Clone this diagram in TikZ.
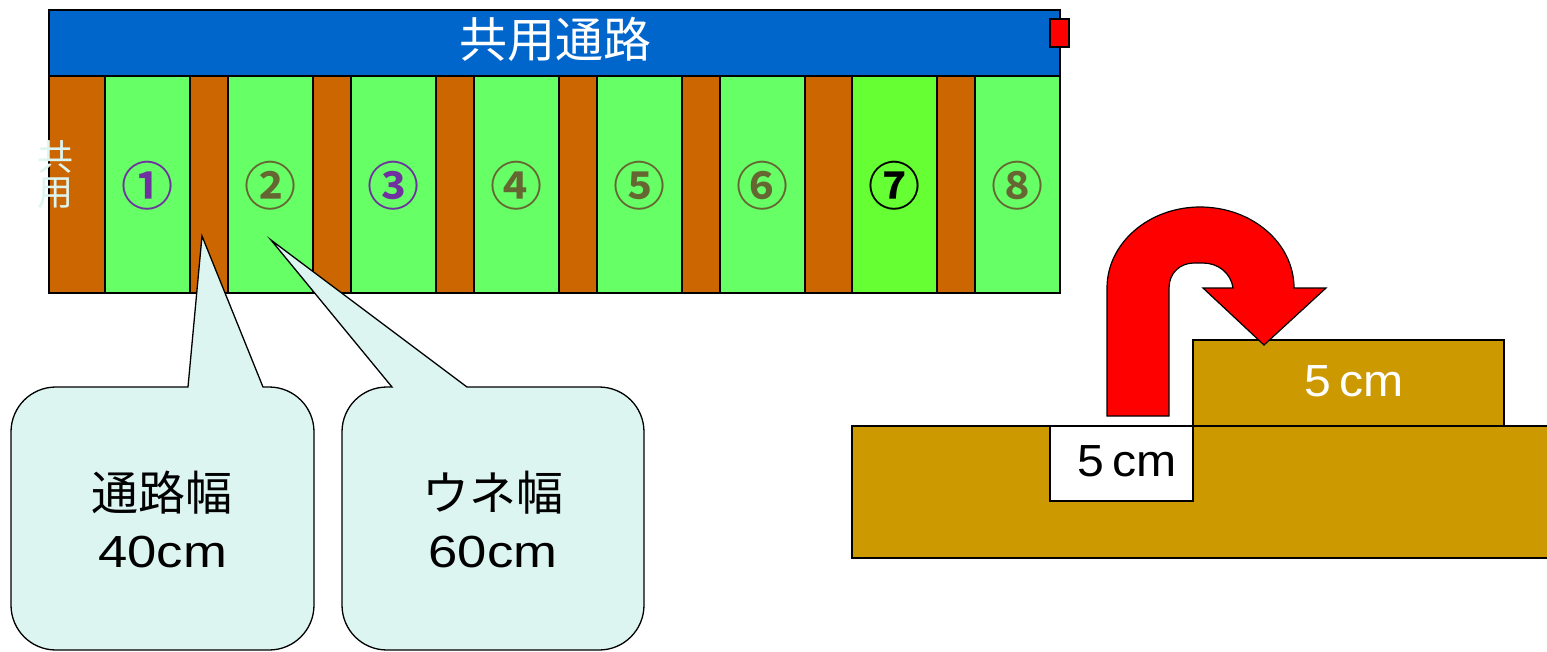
\documentclass[tikz,border=0pt]{standalone}
\usepackage{fontspec}
\newfontfamily\cjk{Noto Sans CJK JP}
\newfontfamily\cjkb{Noto Sans CJK JP Bold}
\newfontfamily\latn[FakeStretch=1.17]{Liberation Sans}
\newfontfamily\latnb[FakeStretch=1.07]{Liberation Sans}
\definecolor{roadblue}{HTML}{0066CC}
\definecolor{pathbrown}{HTML}{CC6600}
\definecolor{ridgegreen}{HTML}{66FF66}
\definecolor{ridgelime}{HTML}{66FF33}
\definecolor{numpurple}{HTML}{7030A0}
\definecolor{numolive}{HTML}{666633}
\definecolor{calloutfill}{HTML}{DDF5F1}
\definecolor{soil}{HTML}{CC9900}
\tikzset{
  plot/.style={draw=black,line width=1.7pt},
  pathstrip/.style={plot,fill=pathbrown},
  ridge/.style={plot,fill=ridgegreen},
  callout/.style={draw=black,line width=1.3pt,fill=calloutfill},
  soilbox/.style={draw=black,line width=1.3pt,fill=soil},
  num/.style={inner sep=0pt,font=\cjkb\fontsize{52}{52}\selectfont},
  bigtext/.style={inner sep=0pt,align=center,font=\cjk\fontsize{47}{60}\selectfont},
  lat/.style={inner sep=0pt,font=\latn\fontsize{45}{50}\selectfont},
  latb/.style={inner sep=0pt,font=\latnb\fontsize{45}{50}\selectfont},
}
\begin{document}
\begin{tikzpicture}[x=1pt,y=-1pt]
\useasboundingbox (0,0) rectangle (1547,651);
% header
\draw[plot,fill=roadblue] (49,10) rectangle (1060,76);
\node[inner sep=0pt,text=white,font=\cjk\fontsize{48}{50}\selectfont] (road) at (555,39) {共用通路};
% strips
\foreach \a/\b in {49/105,190/228,313/351,436/474,559/597,682/720,805/852,937/975}
  \draw[pathstrip] (\a,76) rectangle (\b,293);
\foreach \a/\b in {105/190,228/313,351/436,474/559,597/682,720/805,975/1060}
  \draw[ridge] (\a,76) rectangle (\b,293);
\draw[plot,fill=ridgelime] (852,76) rectangle (937,293);
\draw[plot,fill=red] (1050,19) rectangle (1069,47);
% numbers
\node[num,text=numpurple] (n1) at (147.5,185.5) {①};
\node[num,text=numolive] (n2) at (270.5,185.5) {②};
\node[num,text=numpurple] (n3) at (393.5,185.5) {③};
\node[num,text=numolive] (n4) at (516.5,185.5) {④};
\node[num,text=numolive] (n5) at (639.5,185.5) {⑤};
\node[num,text=numolive] (n6) at (762.5,185.5) {⑥};
\node[num,text=black] (n7) at (894.5,185.5) {⑦};
\node[num,text=numolive] (n8) at (1017.5,185.5) {⑧};
\node[inner sep=0pt,align=center,text=calloutfill,font=\cjk\fontsize{36}{35}\selectfont] (kyo) at (55,175) {共\\用};
% callouts
\draw[callout] (188,387) -- (202,236) -- (263,387) -- (269,387)
  .. controls (294,387) and (314,407) .. (314,432) -- (314,605)
  .. controls (314,630) and (294,650) .. (269,650) -- (56,650)
  .. controls (31,650) and (11,630) .. (11,605) -- (11,432)
  .. controls (11,407) and (31,387) .. (56,387) -- cycle;
\draw[callout] (392,387) -- (271,240) -- (467,387) -- (599,387)
  .. controls (624,387) and (644,407) .. (644,432) -- (644,605)
  .. controls (644,630) and (624,650) .. (599,650) -- (387,650)
  .. controls (362,650) and (342,630) .. (342,605) -- (342,432)
  .. controls (342,407) and (362,387) .. (387,387) -- cycle;
\node[bigtext] (c1a) at (162,493) {通路幅};
\node[lat] (c1b) at (162.5,552) {40cm};
\node[bigtext] (c2a) at (493,493) {ウネ幅};
\node[lat] (c2b) at (493,552) {60cm};
% soil
\draw[soilbox] (852,426) rectangle (1549,558);
\draw[soilbox] (1193,340) rectangle (1504,426);
\draw[draw=black,line width=1.5pt,fill=white] (1050,426) rectangle (1193,501);
\node[latb] (w1) at (1127,461) {5\kern-5pt\ cm};
\node[latb,text=white] (w2) at (1354,381) {5\kern-5pt\ cm};
% arrow
\draw[draw=black,line width=1.2pt,fill=red] (1107,416) -- (1107,288)
  .. controls (1107,243) and (1149,207) .. (1200,207)
  .. controls (1252,207) and (1294,243) .. (1294,288)
  -- (1326,288) -- (1264,345) -- (1203,288) -- (1233,288)
  .. controls (1231,273) and (1218,263) .. (1203,263)
  -- (1194,263)
  .. controls (1180,263) and (1169,273) .. (1169,288)
  -- (1169,416) -- cycle;
\end{tikzpicture}
\end{document}
